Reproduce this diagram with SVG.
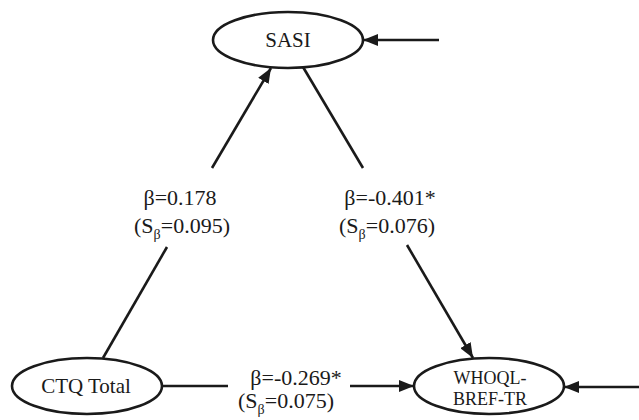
<svg xmlns="http://www.w3.org/2000/svg" width="639" height="420" viewBox="0 0 639 420">
<defs>
<marker id="ah" markerUnits="userSpaceOnUse" markerWidth="16" markerHeight="12" refX="15" refY="6" orient="auto">
<path d="M0,0 L15,6 L0,12 Z" fill="#1a1a1a"/>
</marker>
<style>
.node{fill:#fff;stroke:#1a1a1a;stroke-width:2.6}
.edge{fill:none;stroke:#1a1a1a;stroke-width:2.6}
text{font-family:'Liberation Serif','DejaVu Serif',serif;fill:#1a1a1a;text-anchor:middle}
.lbl{font-size:22px}
.sub{font-size:14px}
</style>
</defs>
<rect width="639" height="420" fill="#fff"/>
<g id="connectors">
<line class="edge" x1="103" y1="358" x2="167" y2="247"/>
<line class="edge" x1="212" y1="168" x2="271" y2="68" marker-end="url(#ah)"/>
<line class="edge" x1="303" y1="67" x2="363" y2="168"/>
<line class="edge" x1="407" y1="245" x2="473" y2="358" marker-end="url(#ah)"/>
<line class="edge" x1="162" y1="386" x2="228" y2="386"/>
<line class="edge" x1="350" y1="386" x2="414" y2="386" marker-end="url(#ah)"/>
<line class="edge" x1="439" y1="40" x2="363" y2="40" marker-end="url(#ah)"/>
<line class="edge" x1="639" y1="387" x2="564" y2="387" marker-end="url(#ah)"/>
<text class="lbl" x="180" y="205" font-family="Liberation Serif, serif">β=0.178</text>
<text class="lbl" x="182" y="233" font-family="Liberation Serif, serif">(S<tspan class="sub" dy="6">β</tspan><tspan dy="-6">=0.095)</tspan></text>
<text class="lbl" x="390" y="205" font-family="Liberation Serif, serif">β=-0.401*</text>
<text class="lbl" x="387" y="233" font-family="Liberation Serif, serif">(S<tspan class="sub" dy="6">β</tspan><tspan dy="-6">=0.076)</tspan></text>
<text class="lbl" x="296" y="385" font-family="Liberation Serif, serif">β=-0.269*</text>
<text class="lbl" x="286" y="408" font-family="Liberation Serif, serif">(S<tspan class="sub" dy="6">β</tspan><tspan dy="-6">=0.075)</tspan></text>
</g>
<g id="SASI">
<ellipse class="node" cx="288" cy="40" rx="75" ry="28"/>
<text x="288" y="47" font-size="21" font-family="Liberation Serif, serif">SASI</text>
</g>
<g id="CTQ">
<ellipse class="node" cx="87" cy="386" rx="75" ry="28"/>
<text x="86" y="393" font-size="21" font-family="Liberation Serif, serif">CTQ Total</text>
</g>
<g id="WHOQL">
<ellipse class="node" cx="489" cy="386" rx="75" ry="28"/>
<text x="490" y="384" font-size="18" font-family="Liberation Serif, serif">WHOQL-</text>
<text x="490" y="405" font-size="18" font-family="Liberation Serif, serif">BREF-TR</text>
</g>
</svg>
